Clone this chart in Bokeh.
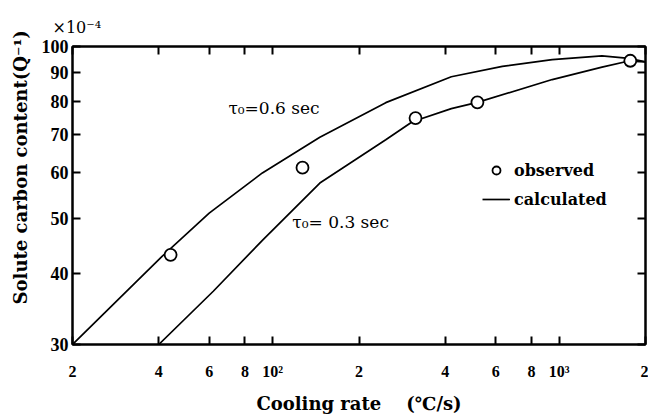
from bokeh.plotting import figure
from bokeh.models import LogAxis, FixedTicker, Label, Legend, LegendItem
from bokeh.embed import file_html
from bokeh.resources import INLINE

# ---- data (cooling rate in °C/s, solute carbon content ×10^-4) ----
x_ticks = [20, 40, 60, 80, 100, 200, 400, 600, 800, 1000, 2000]
x_tick_labels = ["2", "4", "6", "8", "10²", "2", "4", "6", "8", "10³", "2"]
y_ticks = [30, 40, 50, 60, 70, 80, 90, 100]
y_tick_labels = ["30", "40", "50", "60", "70", "80", "90", "100"]

obs_rate = [44, 127, 315, 518, 1770]
obs_carbon = [43.1, 61.3, 74.9, 79.8, 94.4]

calc06_rate = [20, 41, 60, 92, 146, 248, 420, 633, 945, 1410, 1750, 2000]
calc06_carbon = [30, 42.8, 51.0, 60.0, 69.3, 79.7, 88.5, 92.3, 94.8, 96.3, 95.3, 94.0]

calc03_rate = [40, 62, 92, 146, 248, 307, 420, 518, 945, 1410, 1750, 2000]
calc03_carbon = [30, 37.2, 45.7, 57.6, 68.6, 73.8, 77.8, 79.8, 87.5, 92.0, 94.3, 94.0]

FONT = "DejaVu Serif"
NUMFONT = "Liberation Serif"

p = figure(width=648, height=416, x_axis_type="log", y_axis_type="log",
           x_range=(20, 2000), y_range=(30, 100),
           output_backend="svg", toolbar_location=None,
           min_border_left=72, min_border_right=3, min_border_top=46, min_border_bottom=72)
p.grid.visible = False
p.outline_line_color = "black"
p.outline_line_width = 2
p.background_fill_color = "white"

# unit multiplier shown above the y axis
p.title.text = "×10⁻⁴"
p.title.align = "left"
p.title.offset = -20
p.title.standoff = 19
p.title.text_font = FONT
p.title.text_font_size = "16px"
p.title.text_font_style = "normal"
p.title.text_color = "black"

xa = p.xaxis[0]
xa.ticker = FixedTicker(ticks=x_ticks)
xa.major_label_overrides = {float(t): l for t, l in zip(x_ticks, x_tick_labels)}
ya = p.yaxis[0]
ya.ticker = FixedTicker(ticks=y_ticks)
ya.major_label_overrides = {float(t): l for t, l in zip(y_ticks, y_tick_labels)}

for ax in (xa, ya):
    ax.major_tick_in = 8
    ax.major_tick_out = 0
    ax.minor_tick_line_color = None
    ax.axis_line_width = 2
    ax.major_tick_line_width = 2
    ax.major_label_text_font = NUMFONT
    ax.major_label_text_font_style = "bold"
    ax.major_label_text_color = "black"
    ax.axis_label_text_font = FONT
    ax.axis_label_text_font_style = "bold"
    ax.axis_label_text_color = "black"

xa.major_label_text_font_size = "16px"
xa.major_label_standoff = 18
xa.axis_label = "Cooling rate\u00a0\u00a0\u00a0\u00a0(℃/s)"
xa.axis_label_text_font_size = "18px"
xa.axis_label_standoff = 10

ya.major_label_text_font_size = "18px"
ya.major_label_standoff = 4
ya.axis_label = "\u00a0" * 9 + "Solute carbon content(Q⁻¹)"
ya.axis_label_text_font_size = "18px"
ya.axis_label_standoff = 8

top = LogAxis(ticker=FixedTicker(ticks=x_ticks), major_label_text_font_size="1px",
              major_label_text_color=None,
              major_label_standoff=0, major_tick_in=8, major_tick_out=0,
              minor_tick_line_color=None, axis_line_width=2, major_tick_line_width=2)
right = LogAxis(ticker=FixedTicker(ticks=y_ticks), major_label_text_font_size="1px",
                major_label_text_color=None,
                major_label_standoff=0, major_tick_in=8, major_tick_out=0,
                minor_tick_line_color=None, axis_line_width=2, major_tick_line_width=2)
p.add_layout(top, "above")
p.add_layout(right, "right")

l06 = p.line(calc06_rate, calc06_carbon, line_color="black", line_width=1.7)
l03 = p.line(calc03_rate, calc03_carbon, line_color="black", line_width=1.7)
obs = p.scatter(obs_rate, obs_carbon, marker="circle", size=12, fill_color="white",
                line_color="black", line_width=1.8)

p.add_layout(Label(x=70, y=78, text="τ₀=0.6 sec", text_font=FONT, text_font_size="17px",
                   text_baseline="middle", text_color="black"))
p.add_layout(Label(x=117, y=49.2, text="τ₀= 0.3 sec", text_font=FONT, text_font_size="17px",
                   text_baseline="middle", text_color="black"))

legend = Legend(items=[LegendItem(label="observed", renderers=[obs]),
                       LegendItem(label="calculated", renderers=[l06])],
                location=(410, 135), glyph_width=28, glyph_height=20, spacing=9,
                padding=0, margin=0, border_line_color=None, background_fill_alpha=0,
                label_standoff=4, label_text_font=FONT, label_text_font_style="bold",
                label_text_font_size="16px", label_text_color="black")
p.add_layout(legend)

open("out.html", "w").write(file_html(p, INLINE))
